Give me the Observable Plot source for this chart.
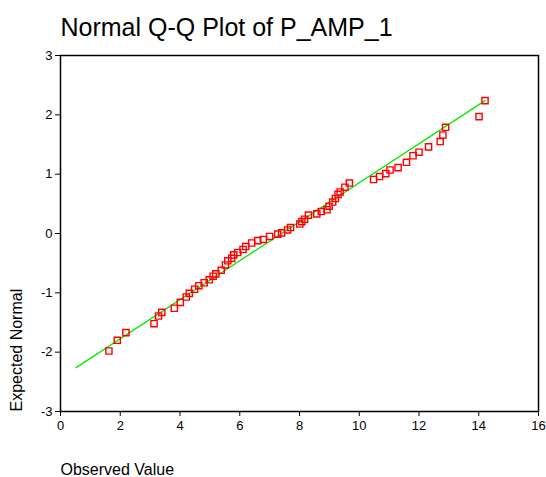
<!DOCTYPE html>
<html><head><meta charset="utf-8">
<script src="https://cdn.jsdelivr.net/npm/d3@7"></script>
<script src="https://cdn.jsdelivr.net/npm/@observablehq/plot@0.6"></script>
<style>body{margin:0;background:#fff;}</style>
</head><body><div id="chart"></div>
<script>
const title = "Normal Q-Q Plot of P_AMP_1";
const xLabel = "Observed Value";
const yLabel = "Expected Normal";
const observed = [1.62,1.90,2.19,3.13,3.28,3.39,3.81,4.01,4.21,4.31,4.49,4.63,4.81,4.98,5.11,5.20,5.38,5.52,5.60,5.73,5.80,5.93,6.11,6.20,6.40,6.60,6.79,7.00,7.27,7.40,7.60,7.70,8.01,8.08,8.17,8.30,8.58,8.73,8.92,8.99,9.11,9.20,9.29,9.36,9.52,9.67,10.48,10.68,10.89,11.03,11.30,11.58,11.80,12.00,12.32,12.71,12.80,12.89,14.01,14.21];
const expected = [-1.98,-1.80,-1.67,-1.52,-1.39,-1.33,-1.26,-1.16,-1.07,-1.01,-0.94,-0.88,-0.83,-0.78,-0.72,-0.68,-0.62,-0.53,-0.46,-0.42,-0.36,-0.32,-0.27,-0.22,-0.16,-0.12,-0.10,-0.05,-0.01,0.01,0.06,0.10,0.16,0.20,0.24,0.31,0.33,0.37,0.40,0.46,0.53,0.59,0.66,0.70,0.78,0.85,0.91,0.96,1.01,1.07,1.11,1.20,1.31,1.37,1.46,1.55,1.66,1.79,1.97,2.24];
const lineObserved = [0.52, 14.21];
const lineExpected = [-2.26, 2.24];
const xTicks = [0,2,4,6,8,10,12,14,16];
const yTicks = [-3,-2,-1,0,1,2,3];

const points = observed.map((v,i)=>({x:v, y:expected[i]}));
const linePts = lineObserved.map((v,i)=>({x:v, y:lineExpected[i]}));

const plot = Plot.plot({
  width: 546, height: 477,
  marginLeft: 60, marginRight: 8, marginTop: 55, marginBottom: 66,
  style: {fontFamily: "'Liberation Sans', Arial, sans-serif", background: "white", color: "black", overflow: "visible"},
  x: {domain:[0,16]},
  y: {domain:[-3,3]},
  marks: [
    Plot.axisX({ticks: xTicks, tickFormat: d => String(d), tickSize: 5, tickPadding: 4, fontSize: 13, label: null, stroke: "black"}),
    Plot.axisY({ticks: yTicks, tickFormat: d => String(d), tickSize: 5, tickPadding: 3, fontSize: 13, label: null, stroke: "black"}),
    Plot.frame({stroke: "black", strokeWidth: 1.5}),
    Plot.line(linePts, {x: "x", y: "y", stroke: "#00ee00", strokeWidth: 1.3}),
    Plot.dot(points, {x: "x", y: "y", symbol: "square", r: 3.5, stroke: "#ff0000", strokeWidth: 1.4, fill: "none"}),
    Plot.text([title], {frameAnchor: "top-left", dy: -20, lineAnchor: "bottom", textAnchor: "start", fontSize: 25, fill: "black"}),
    Plot.text([xLabel], {frameAnchor: "bottom-left", dy: 63, lineAnchor: "bottom", textAnchor: "start", fontSize: 16, fill: "black"}),
    Plot.text([yLabel], {frameAnchor: "bottom-left", dx: -44, rotate: -90, lineAnchor: "middle", textAnchor: "start", fontSize: 16, fill: "black"})
  ]
});
document.getElementById("chart").appendChild(plot);
</script>
</body></html>
